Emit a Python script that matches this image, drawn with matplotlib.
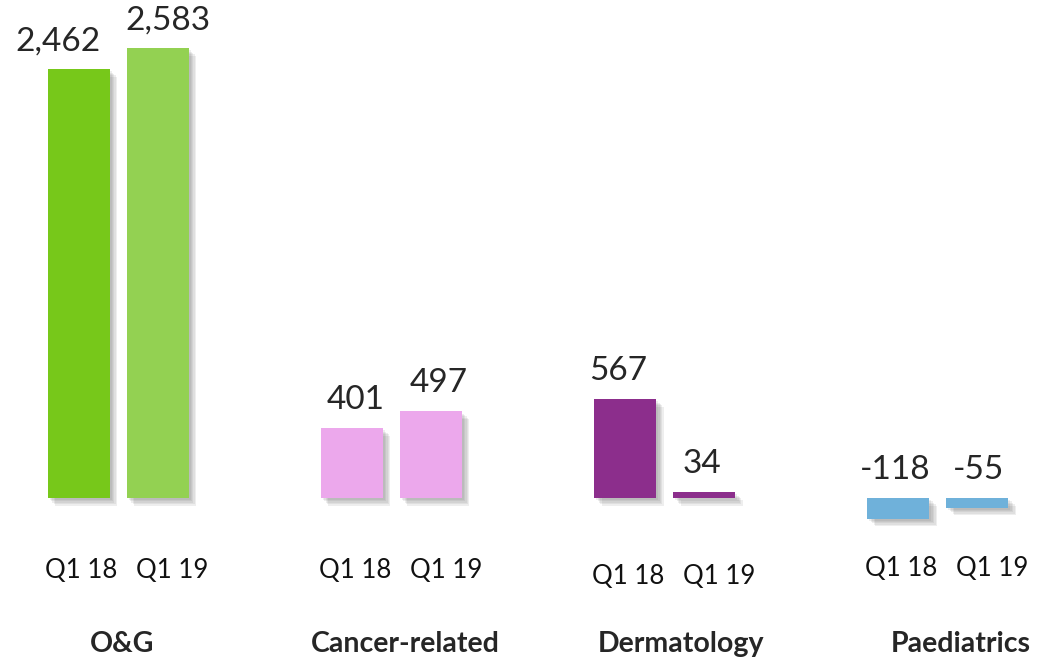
import matplotlib
matplotlib.use("Agg")
import matplotlib.pyplot as plt
import matplotlib.patheffects as pe

plt.rcParams['font.family'] = ['Lato', 'DejaVu Sans']

categories = ["O&G", "Cancer-related", "Dermatology", "Paediatrics"]
periods = ["Q1 18", "Q1 19"]
q1_18 = [2462, 401, 567, -118]
q1_19 = [2583, 497, 34, -55]
colors_18 = ["#77c81a", "#eca8ec", "#8c2e8c", "#6fb1da"]
colors_19 = ["#93d152", "#eca8ec", "#8c2e8c", "#6fb1da"]

W, H = 1059, 661
fig = plt.figure(figsize=(W / 100, H / 100), dpi=100)
ax = fig.add_axes([0, 0, 1, 1])

# pixel layout
px_per_group = 273.3
first_center_px = 118
baseline_px_from_top = 498
px_per_unit = 0.1742
ax.set_xlim(-first_center_px / px_per_group, (W - first_center_px) / px_per_group)
ax.set_ylim(-(H - baseline_px_from_top) / px_per_unit, baseline_px_from_top / px_per_unit)
ax.axis("off")

off = 79 / 2 / px_per_group
bw = 62 / px_per_group
gap_units = 13 / px_per_unit

shadow = [pe.SimplePatchShadow(offset=(o, -o), shadow_rgbFace="#606060", alpha=0.10)
          for o in (1.5, 2.5, 3.5, 4.5, 5.5)] + [pe.Normal()]

tick_dy = [0, 0, 6, -3]          # vertical nudges of period labels (px)
value_dx = [(-20, 10), (4, 8), (-7, -2), (-3, 1)]  # horizontal nudges of value labels (px)
cat_dx = [4, 14, 16, 23]         # horizontal nudges of category labels (px)

for i, cat in enumerate(categories):
    for j, (vals, cols) in enumerate([(q1_18, colors_18), (q1_19, colors_19)]):
        x = i + (-off if j == 0 else off)
        v = vals[i]
        b = ax.bar(x, v, width=bw, color=cols[i], zorder=3)
        for p in b.patches:
            p.set_path_effects(shadow)
        ytxt = max(v, 0) + gap_units
        ax.text(x + value_dx[i][j] / px_per_group, ytxt, f"{v:,}", ha="center",
                va="bottom", fontsize=24, color="#262626", zorder=4)
        # period labels
        y_per = -(571 - baseline_px_from_top + tick_dy[i]) / px_per_unit
        dx = (3 if j == 0 else 15) / px_per_group
        ax.text(x + dx, y_per, periods[j], ha="center", va="center",
                fontsize=18.5, color="#111111")
    y_cat = -(644 - baseline_px_from_top) / px_per_unit
    ax.text(i + cat_dx[i] / px_per_group, y_cat, cat, ha="center", va="center",
            fontsize=20.5, fontweight="bold", color="#262626")

fig.savefig("out.png", dpi=100)
